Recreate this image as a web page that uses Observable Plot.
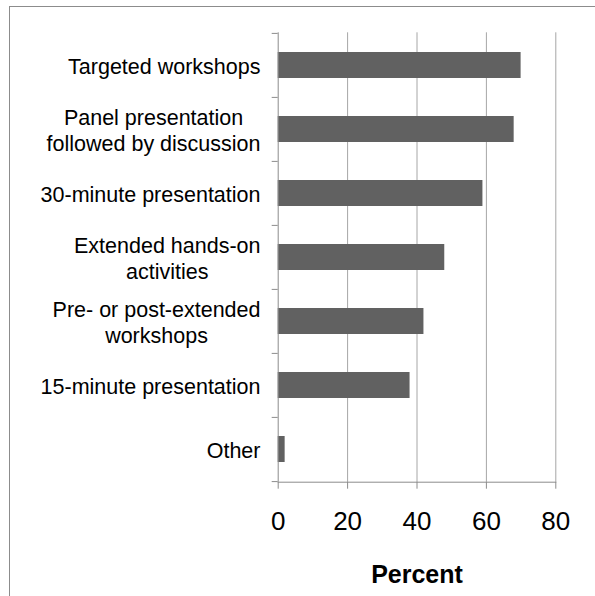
<!DOCTYPE html>
<html>
<head>
<meta charset="utf-8">
<script src="https://cdn.jsdelivr.net/npm/d3@7"></script>
<script src="https://cdn.jsdelivr.net/npm/@observablehq/plot@0.6"></script>
<style>
  html, body { margin: 0; padding: 0; background: #fff; }
  #wrap { position: relative; width: 595px; height: 596px; overflow: hidden; }
  #border { position: absolute; left: 9px; top: 6px; width: 700px; height: 700px;
            border-left: 1px solid #8c8c8c; border-top: 1px solid #8c8c8c; box-sizing: border-box; }
  #chart { position: absolute; left: 0; top: 0; }
  #chart svg { font-family: "Liberation Sans", Arial, sans-serif; }
</style>
</head>
<body>
<div id="wrap"><div id="border"></div><div id="chart"></div></div>
<script>
const categories = [
  "Targeted workshops",
  "Panel presentation\nfollowed by discussion",
  "30-minute presentation",
  "Extended hands-on\nactivities",
  "Pre- or post-extended\nworkshops",
  "15-minute presentation",
  "Other"
];
const percents = [70, 68, 59, 48, 42, 38, 2];
const xTicks = [0, 20, 40, 60, 80];
const xLabel = "Percent";

const data = categories.map((c, i) => ({category: c, value: percents[i]}));

const W = 595, H = 596;
const mL = 277.7, mR = 39.7, mT = 32.3, mB = 114.3;
const step = (H - mT - mB) / categories.length;
const axisGray = "#8c8c8c";
const gridGray = "#a6a6a6";

const plot = Plot.plot({
  width: W,
  height: H,
  marginLeft: mL,
  marginRight: mR,
  marginTop: mT,
  marginBottom: mB,
  style: {fontFamily: '"Liberation Sans", Arial, sans-serif', background: "transparent"},
  x: {domain: [0, 80], ticks: xTicks},
  y: {domain: categories, paddingInner: 0.6, paddingOuter: 0.3},
  marks: [
    Plot.ruleX(xTicks.slice(1), {stroke: gridGray, strokeWidth: 1}),
    Plot.barX(data, {x: "value", y: "category", fill: "#616161"}),
    Plot.ruleX([0], {stroke: axisGray, strokeWidth: 1}),
    Plot.axisX({ticks: xTicks, tickSize: 7, tickPadding: 22, fontSize: 26, stroke: axisGray, strokeOpacity: 1, color: "#000", label: null}),
    Plot.frame({anchor: "bottom", stroke: axisGray, strokeOpacity: 1}),
    Plot.axisY({tickSize: 6, text: null, dy: -step / 2, stroke: axisGray, strokeOpacity: 1, label: null}),
    Plot.axisY({ticks: [categories[categories.length - 1]], tickSize: 6, text: null, dy: step / 2, stroke: axisGray, strokeOpacity: 1, label: null}),
    Plot.axisY({tickSize: 0, tickPadding: 17.7, fontSize: 21.5, lineHeight: 1.2, color: "#000", label: null}),
    Plot.text([xLabel], {frameAnchor: "bottom", dy: 83.3, lineAnchor: "top", fontSize: 25, fontWeight: "bold", fill: "#000", text: d => d})
  ]
});

document.getElementById("chart").appendChild(plot);

// Center multi-line category labels within their right-aligned block
plot.querySelectorAll('g[aria-label="y-axis tick label"] text').forEach(t => {
  const tspans = t.querySelectorAll("tspan");
  if (tspans.length > 1) {
    const w = t.getBBox().width;
    const anchor = t.getAttribute("text-anchor") || t.parentNode.getAttribute("text-anchor");
    t.setAttribute("text-anchor", "middle");
    tspans.forEach(s => s.setAttribute("x", String(-w / 2)));
  }
});
</script>
</body>
</html>
